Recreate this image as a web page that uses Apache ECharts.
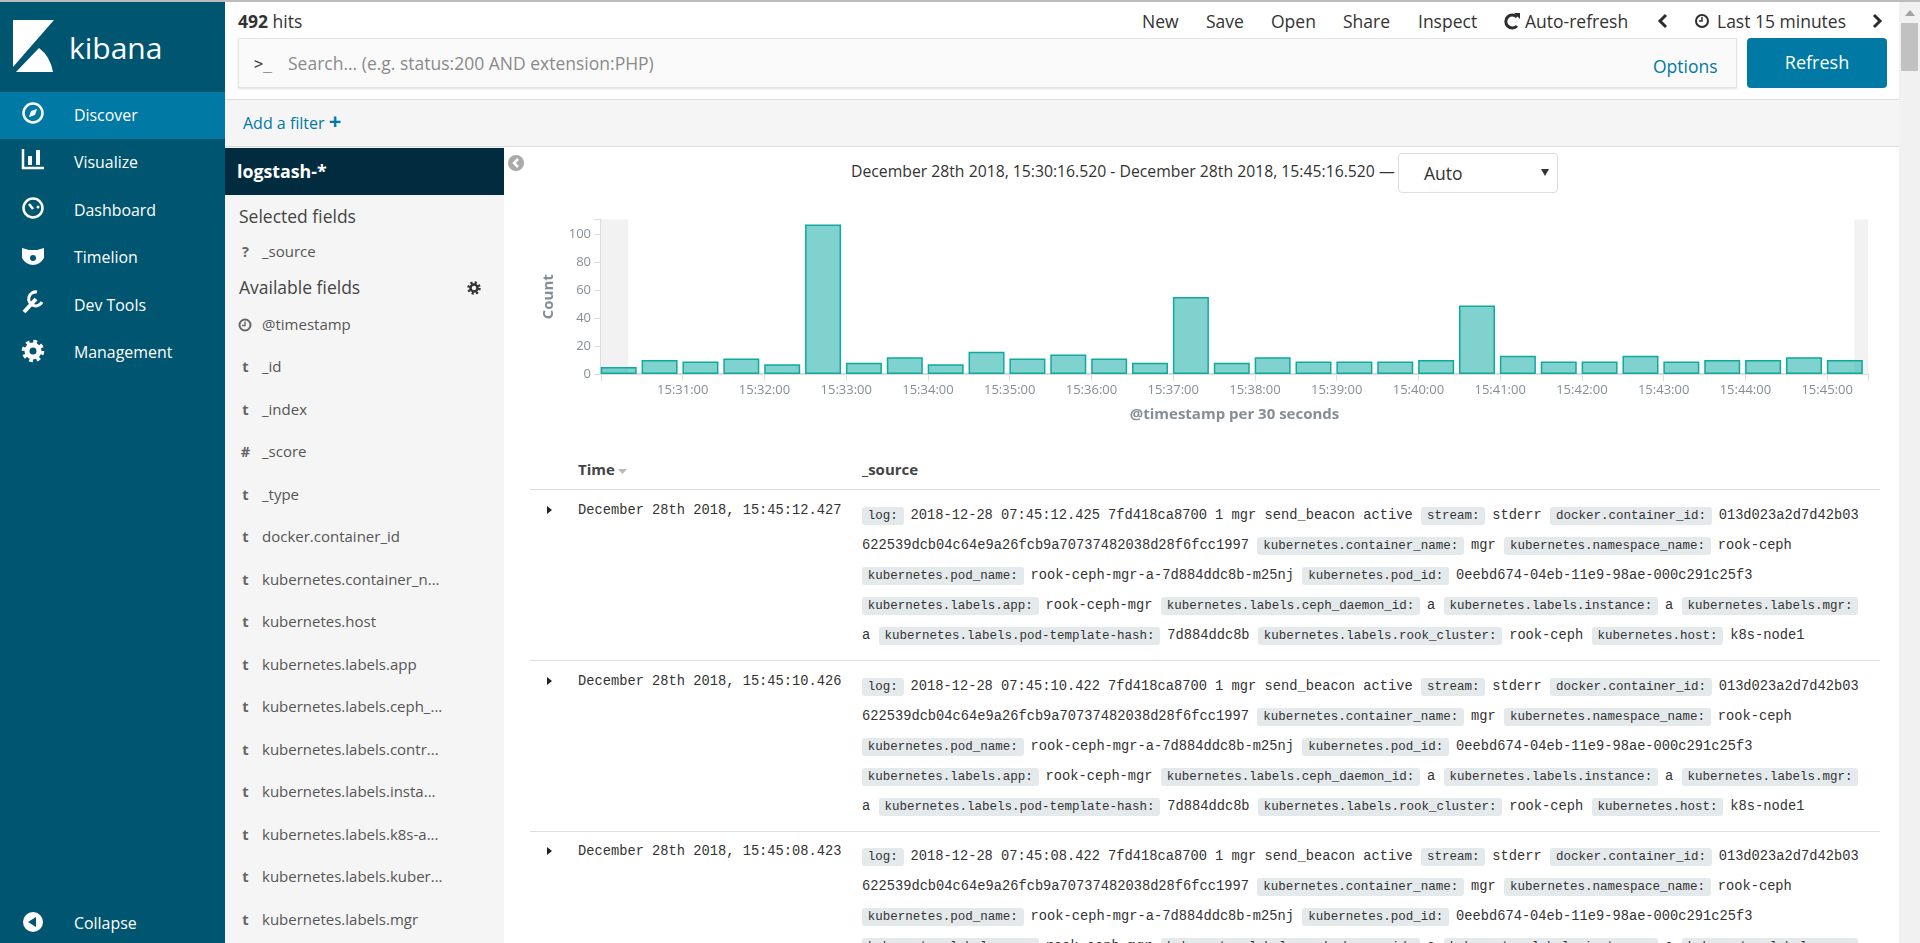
<!DOCTYPE html>
<html>
<head>
<meta charset="utf-8">
<title>Discover - Kibana</title>
<script src="https://cdn.jsdelivr.net/npm/echarts@6/dist/echarts.min.js"></script>
<style>
	html, body { margin: 0; padding: 0; width: 1920px; height: 943px; overflow: hidden; background: #fff; font-family: "Open Sans", sans-serif; color: #2d2d2d; }
	.abs { position: absolute; white-space: nowrap; }
	.mid { transform: translateY(-50%); }
	#topline { left: 0; top: 0; width: 1920px; height: 2px; background: #bcbcbc; z-index: 9; }
	#sidebar { left: 0; top: 0; width: 225px; height: 943px; background: #005571; }
	#active { left: 0; top: 92px; width: 225px; height: 47px; background: #0079a5; }
	.nav { color: #fff; font-size: 15.9px; left: 74px; }
	.top { font-size: 17.5px; top: 21px; color: #333; }
	#filterbar { left: 225px; top: 99px; width: 1674px; height: 48px; background: #f5f5f5; border-top: 1px solid #ddd; border-bottom: 1px solid #ddd; box-sizing: border-box; }
	#search { left: 238px; top: 38px; width: 1499px; height: 50px; background: #fafafa; border: 1px solid #e4e4e4; box-shadow: 0 1px 2px rgba(0,0,0,.12); box-sizing: border-box; }
	#refresh { left: 1747px; top: 38px; width: 140px; height: 50px; line-height: 49px; text-align: center; color: #fff; font-size: 18px; background: #0079a5; border-radius: 4px; }
	#panel { left: 225px; top: 147px; width: 279px; height: 796px; background: #f5f5f5; }
	#indexname { left: 225px; top: 148px; width: 279px; height: 47px; line-height: 46px; background: #012c3f; color: #fff; font-weight: 700; font-size: 17.8px; text-indent: 12px; }
	.head { left: 239px; font-size: 17.5px; color: #444; }
	.ftype { left: 238px; width: 15px; text-align: center; font-size: 14.5px; font-weight: 700; color: #666; }
	.fname { left: 262px; font-size: 15px; color: #555; }
	#scroll { left: 1899px; top: 0; width: 21px; height: 943px; background: #f1f1f1; }
	#thumb { left: 1901px; top: 23px; width: 17px; height: 48px; background: #c1c1c1; }
	#range { left: 851px; top: 171px; font-size: 15.75px; color: #333; }
	#interval { left: 1398px; top: 153px; width: 160px; height: 40px; border: 1px solid #ddd; border-radius: 4px; box-sizing: border-box; font-size: 17.5px; line-height: 39px; text-indent: 25px; color: #333; }
	#main { left: 505px; top: 200px; width: 1394px; height: 230px; }
	.th { top: 469px; font-size: 15px; font-weight: 700; color: #444; }
	.rule { left: 530px; width: 1350px; height: 1px; background: #ddd; }
	.mono { font-family: "Liberation Mono", monospace; font-size: 13.72px; color: #333; }
	.pill { display: inline-block; height: 18px; line-height: 18px; font-size: 12.5px; background: #e4e9ec; border-radius: 3px; padding: 0 5.75px; margin-right: 7px; }
	.val { margin-right: 8.5px; }
</style>
</head>
<body>
<div class="abs" id="sidebar"></div>
<div class="abs" id="active"></div>
<svg class="abs" style="left:0;top:0" width="225" height="943" id="icons">
	<polygon points="13,20 54,20 13,67" fill="#fff"/>
	<path d="M16,72 L39,48 Q50,56 53,72 Z" fill="#fff"/>
	<g fill="none" stroke="#fff" stroke-width="2.5">
		<circle cx="33" cy="113" r="9.5"/>
		<path d="M29,117 L31,111 L37,109 L35,115 Z" fill="#fff" stroke="none"/>
		<path d="M23,149 V168 H44" />
		<circle cx="33" cy="208" r="9.5"/>
		<path d="M33,209 L29,204" />
		<circle cx="38" cy="207" r="1.5" fill="#fff" stroke="none"/>
		<circle cx="33" cy="351" r="6" stroke-width="5"/>
		<circle cx="33" cy="351" r="9.5" stroke-width="3.5" stroke-dasharray="3.7 3.77"/>
		<path d="M24,312 L36,299" stroke-width="4"/>
		<path d="M37,292 A7,7 0 1 0 42,302" stroke-width="3"/>
		<circle cx="33" cy="922" r="10" fill="#fff" stroke="none"/>
	</g>
	<rect x="28" y="156" width="4" height="9" fill="#fff"/>
	<rect x="36" y="150" width="4" height="15" fill="#fff"/>
	<path d="M22,248 L29,250 H37 L44,248 V258 Q40,265 33,265 Q26,265 22,258 Z" fill="#fff"/>
	<circle cx="33" cy="258" r="3" fill="#005571"/>
	<polygon points="36,917 28,922 36,927" fill="#005571"/>
</svg>
<div class="abs mid" style="left:69px;top:47px;font-size:30px;color:#fff">kibana</div>
<div id="navlist"></div>

<div class="abs" id="filterbar"></div>
<div class="abs mid top" style="left:238px"><b>492</b> hits</div>
<div id="toplinks"></div>
<svg class="abs" style="left:1495px;top:10px" width="400" height="24">
	<path d="M22,7 A6.5,6.5 0 1 0 22,16" fill="none" stroke="#2d2d2d" stroke-width="3"/>
	<polygon points="19,3 25,3 25,9" fill="#2d2d2d"/>
	<path d="M171,5 L165,11 L171,17" fill="none" stroke="#2d2d2d" stroke-width="3"/>
	<circle cx="207" cy="11" r="6" fill="none" stroke="#2d2d2d" stroke-width="2"/>
	<path d="M207,7 V11 H204" fill="none" stroke="#2d2d2d" stroke-width="1.5"/>
	<path d="M379,5 L385,11 L379,17" fill="none" stroke="#2d2d2d" stroke-width="3"/>
</svg>
<div class="abs" id="search"></div>
<div class="abs mid" style="left:254px;top:64px;font-size:15px;color:#444;font-family:'DejaVu Sans Mono'">&gt;_</div>
<div class="abs mid" style="left:288px;top:63px;font-size:17.5px;color:#8a8a8a">Search... (e.g. status:200 AND extension:PHP)</div>
<div class="abs mid" style="left:1653px;top:66px;font-size:17.5px;color:#0079a5">Options</div>
<div class="abs" id="refresh">Refresh</div>
<div class="abs mid" style="left:243px;top:123px;font-size:16px;color:#0079a5">Add a filter <b style="font-size:22px;line-height:10px">+</b></div>

<div class="abs" id="panel"></div>
<div class="abs" id="indexname">logstash-*</div>
<div class="abs mid head" style="top:216px">Selected fields</div>
<div class="abs mid ftype" style="top:251px">?</div>
<div class="abs mid fname" style="top:251px">_source</div>
<div class="abs mid head" style="top:287px">Available fields</div>
<svg class="abs" style="left:466px;top:280px" width="16" height="16">
	<circle cx="8" cy="8" r="3.5" fill="none" stroke="#333" stroke-width="2.5"/>
	<circle cx="8" cy="8" r="5.5" fill="none" stroke="#333" stroke-width="2.5" stroke-dasharray="2.2 2.12"/>
</svg>
<svg class="abs" style="left:238px;top:318px" width="14" height="14">
	<circle cx="7" cy="7" r="5.5" fill="none" stroke="#666" stroke-width="2"/>
	<path d="M7,3.5 V7.5 H4" fill="none" stroke="#666" stroke-width="1.4"/>
</svg>
<div id="fieldlist"></div>
<svg class="abs" style="left:508px;top:155px" width="16" height="16">
	<circle cx="8" cy="8" r="8" fill="#aaa"/>
	<path d="M10,4 L6,8 L10,12" fill="none" stroke="#fff" stroke-width="2.5"/>
</svg>

<div class="abs mid" id="range">December 28th 2018, 15:30:16.520 - December 28th 2018, 15:45:16.520 —</div>
<div class="abs" id="interval">Auto</div>
<svg class="abs" style="left:1540px;top:168px" width="12" height="10"><polygon points="1,1 9,1 5,8" fill="#333"/></svg>
<div class="abs" id="main"></div>

<div class="abs mid th" style="left:578px">Time</div>
<svg class="abs" style="left:617px;top:468px" width="12" height="8"><polygon points="1,1 10,1 5.5,6" fill="#bbb"/></svg>
<div class="abs mid th" style="left:862px">_source</div>
<div id="rows"></div>

<div class="abs" id="scroll"></div>
<div class="abs" id="thumb"></div>
<svg class="abs" style="left:1904px;top:9px" width="12" height="8"><polygon points="1,7 6,1 11,7" fill="#a3a3a3"/></svg>
<div class="abs" id="topline"></div>

<script>
	var bucketStarts = ['15:30:00','15:30:30','15:31:00','15:31:30','15:32:00','15:32:30','15:33:00','15:33:30',
		'15:34:00','15:34:30','15:35:00','15:35:30','15:36:00','15:36:30','15:37:00','15:37:30','15:38:00','15:38:30',
		'15:39:00','15:39:30','15:40:00','15:40:30','15:41:00','15:41:30','15:42:00','15:42:30','15:43:00','15:43:30',
		'15:44:00','15:44:30','15:45:00'];
	var counts = [5,10,9,11,7,107,8,12,7,16,11,14,11,8,55,8,12,9,9,9,10,49,13,9,9,13,9,10,10,12,10];
	var xTickLabels = ['15:31:00','15:32:00','15:33:00','15:34:00','15:35:00','15:36:00','15:37:00','15:38:00',
		'15:39:00','15:40:00','15:41:00','15:42:00','15:43:00','15:44:00','15:45:00'];
	var yTicks = [0,20,40,60,80,100];
	// seconds after 15:30:00 where the grey "outside the range" bands stop and start
	var bandLeftEnd = 20;
	var bandRightStart = 920;
	var xEnd = 930;
	var yEnd = 110.5;

	var navItems = ['Discover','Visualize','Dashboard','Timelion','Dev Tools','Management','Collapse'];
	var navTops = [114.5,161.5,209.5,256.5,304.5,351.5,923];
	var topLinks = [['New',1142],['Save',1206],['Open',1271],['Share',1343],['Inspect',1418],['Auto-refresh',1525],['Last 15 minutes',1717]];
	var fieldTypes = ['','t','t','#','t','t','t','t','t','t','t','t','t','t','t'];
	var fieldNames = ['@timestamp','_id','_index','_score','_type','docker.container_id','kubernetes.container_n...','kubernetes.host',
		'kubernetes.labels.app','kubernetes.labels.ceph_...','kubernetes.labels.contr...','kubernetes.labels.insta...',
		'kubernetes.labels.k8s-a...','kubernetes.labels.kuber...','kubernetes.labels.mgr'];
	var fieldTops = [324,366,409,451,494,536,579,621,664,706,749,791,834,876,919];
	var rowTimes = ['December 28th 2018, 15:45:12.427','December 28th 2018, 15:45:10.426','December 28th 2018, 15:45:08.423'];
	var logTimes = ['2018-12-28 07:45:12.425','2018-12-28 07:45:10.422','2018-12-28 07:45:08.422'];

	function el(cls, css, html) {
		var d = document.createElement('div');
		d.className = cls;
		d.style.cssText = css;
		d.innerHTML = html;
		return d;
	}
	function pills(parts) {
		// even entries are the field names, odd entries the plain values
		return parts.map(function(p, i) {
			return i % 2 == 0 ? (p ? '<span class="pill">' + p + '</span>' : '') : '<span class="val">' + p + '</span>';
		}).join('');
	}

	navItems.forEach(function(name, i) {
		document.getElementById('navlist').appendChild(el('abs mid nav', 'top:' + navTops[i] + 'px', name));
	});
	topLinks.forEach(function(link) {
		document.getElementById('toplinks').appendChild(el('abs mid top', 'left:' + link[1] + 'px', link[0]));
	});
	fieldNames.forEach(function(name, i) {
		var list = document.getElementById('fieldlist');
		list.appendChild(el('abs mid ftype', 'top:' + fieldTops[i] + 'px', fieldTypes[i]));
		list.appendChild(el('abs mid fname', 'top:' + fieldTops[i] + 'px', name));
	});

	rowTimes.forEach(function(time, r) {
		var box = document.getElementById('rows');
		var top = 489.5 + r * 170.6;
		var lines = [
			['log:', logTimes[r] + ' 7fd418ca8700 1 mgr send_beacon active', 'stream:', 'stderr', 'docker.container_id:', '013d023a2d7d42b03'],
			['', '622539dcb04c64e9a26fcb9a70737482038d28f6fcc1997', 'kubernetes.container_name:', 'mgr', 'kubernetes.namespace_name:', 'rook-ceph'],
			['kubernetes.pod_name:', 'rook-ceph-mgr-a-7d884ddc8b-m25nj', 'kubernetes.pod_id:', '0eebd674-04eb-11e9-98ae-000c291c25f3'],
			['kubernetes.labels.app:', 'rook-ceph-mgr', 'kubernetes.labels.ceph_daemon_id:', 'a', 'kubernetes.labels.instance:', 'a', 'kubernetes.labels.mgr:'],
			['', 'a', 'kubernetes.labels.pod-template-hash:', '7d884ddc8b', 'kubernetes.labels.rook_cluster:', 'rook-ceph', 'kubernetes.host:', 'k8s-node1']
		];
		if (r > 0) {
			box.appendChild(el('abs rule', 'top:' + top + 'px', ''));
		}
		box.appendChild(el('abs mid', 'left:547px;top:' + (top + 20.5) + 'px;width:0;height:0;border-left:5px solid #222;border-top:4px solid transparent;border-bottom:4px solid transparent', ''));
		box.appendChild(el('abs mid mono', 'left:578px;top:' + (top + 20.5) + 'px', time));
		lines.forEach(function(parts, i) {
			box.appendChild(el('abs mid mono', 'left:862px;top:' + (top + 26.5 + i * 30) + 'px', pills(parts)));
		});
	});
	document.getElementById('rows').appendChild(el('abs rule', 'top:489px', ''));

	function secondsFromStart(t) {
		var p = t.split(':');
		return (p[0] - 15) * 3600 + (p[1] - 30) * 60 + (+p[2]);
	}

	var barData = bucketStarts.map(function(t, i) {
		// Kibana puts the bar's left edge on the bucket start, 26s wide out of 30s
		return [secondsFromStart(t) + 13, counts[i]];
	});

	var myChart = echarts.init(document.getElementById('main'));
	myChart.setOption({
		animation: false,
		textStyle: { fontFamily: '"Open Sans", sans-serif' },
		grid: { left: 96, top: 19.5, width: 1267, height: 154.5 },
		xAxis: {
			type: 'value',
			min: 0,
			max: xEnd,
			interval: 60,
			name: '@timestamp per 30 seconds',
			nameLocation: 'middle',
			nameGap: 33,
			nameTextStyle: { color: '#848e96', fontSize: 15, fontWeight: 'bold' },
			splitLine: { show: false },
			axisLine: { lineStyle: { color: '#ddd', width: 2 } },
			axisTick: { length: 7, lineStyle: { color: '#ddd', width: 1 } },
			axisLabel: {
				color: '#848e96',
				fontSize: 13,
				margin: 10,
				formatter: function(v) {
					return v % 60 == 0 && v > 0 ? xTickLabels[v / 60 - 1] : '';
				}
			}
		},
		yAxis: {
			type: 'value',
			min: 0,
			max: yEnd,
			interval: 20,
			name: 'Count',
			nameLocation: 'middle',
			nameGap: 45,
			nameTextStyle: { color: '#848e96', fontSize: 15, fontWeight: 'bold' },
			splitLine: { show: false },
			axisLine: { show: true, lineStyle: { color: '#ddd', width: 2 } },
			axisTick: { show: true, length: 7, lineStyle: { color: '#ddd', width: 1 } },
			axisLabel: {
				color: '#848e96',
				fontSize: 13,
				margin: 10,
				formatter: function(v) {
					return yTicks.indexOf(v) >= 0 ? String(v) : '';
				}
			}
		},
		series: [
			{
				type: 'line',
				data: [],
				z: 1,
				silent: true,
				markArea: {
					silent: true,
					itemStyle: { color: '#f2f2f2' },
					data: [
						[{ xAxis: 0 }, { xAxis: bandLeftEnd }],
						[{ xAxis: bandRightStart }, { xAxis: xEnd }]
					]
				}
			},
			{
				type: 'bar',
				barWidth: 36,
				z: 2,
				data: barData,
				itemStyle: { color: 'rgba(0,166,155,0.5)', borderColor: '#0faa9e', borderWidth: 1.5 }
			}
		]
	});
</script>
</body>
</html>
